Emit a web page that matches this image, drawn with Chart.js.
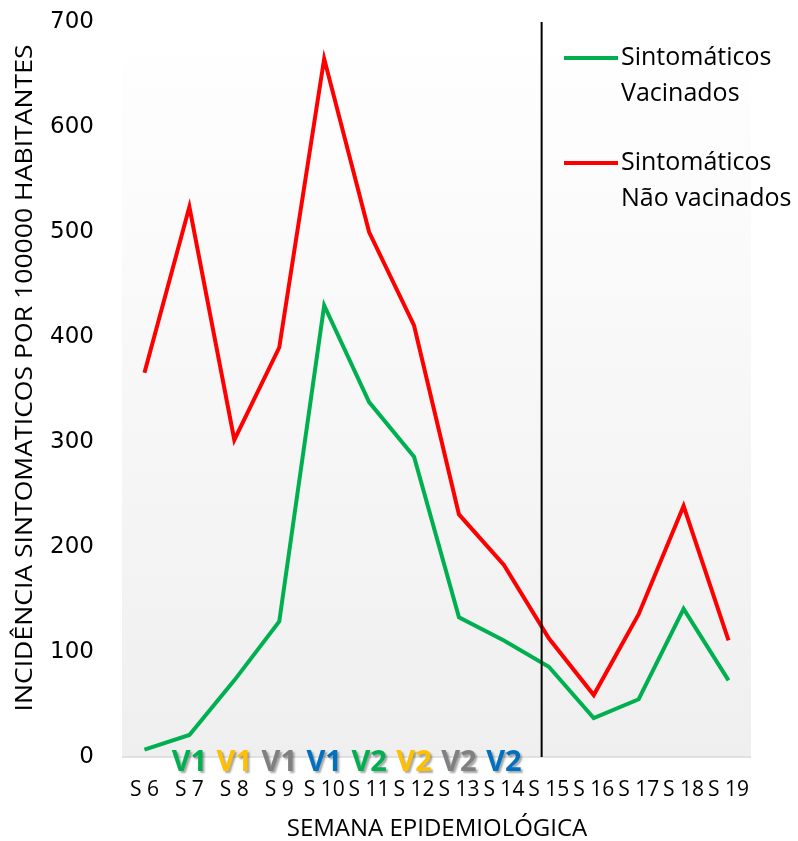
<!DOCTYPE html>
<html lang="pt">
<head>
<meta charset="UTF-8">
<title>Sintomáticos</title>
<style>
  html, body { margin: 0; padding: 0; background: #fff; }
  .box { width: 798px; height: 841px; }
</style>
</head>
<body>
<div class="box"><canvas id="grafico"></canvas></div>
<script src="https://cdn.jsdelivr.net/npm/chart.js"></script>
<script>
  // dados
  var semanas = ["S 6", "S 7", "S 8", "S 9", "S 10", "S 11", "S 12", "S 13", "S 14", "S 15", "S 16", "S 17", "S 18", "S 19"];
  var vacinados = [7, 21, 73, 129, 430, 338, 286, 133, 111, 86, 37, 55, 141, 73];
  var naoVacinados = [366, 524, 302, 390, 665, 500, 411, 231, 183, 113, 59, 136, 239, 111];
  var doses = ["V1", "V1", "V1", "V1", "V2", "V2", "V2", "V2"];
  var corDoses = ["#00b050", "#ffc000", "#808080", "#0070c0", "#00b050", "#ffc000", "#808080", "#0070c0"];
  var posicaoLinha = 8.84; // entre S 14 e S 15
  var tituloY = 'INCIDÊNCIA SINTOMATICOS POR 100000 HABITANTES';
  var tituloX = 'SEMANA EPIDEMIOLÓGICA';

  var fundo = {
    id: 'fundo',
    beforeDraw: function (chart) {
      var c = chart.ctx, a = chart.chartArea;
      var g = c.createLinearGradient(0, a.top, 0, a.bottom);
      g.addColorStop(0, '#ffffff');
      g.addColorStop(0.13, '#fdfdfd');
      g.addColorStop(1, '#efefef');
      c.save();
      c.fillStyle = g;
      c.fillRect(a.left, a.top, a.right - a.left, a.bottom - a.top);
      c.strokeStyle = '#d9d9d9';
      c.lineWidth = 1.5;
      c.beginPath();
      c.moveTo(a.left, a.bottom);
      c.lineTo(a.right, a.bottom);
      c.stroke();
      c.restore();
    },
    afterDraw: function (chart) {
      var c = chart.ctx, a = chart.chartArea, x = chart.scales.x;
      // linha vertical
      var x0 = x.getPixelForValue(8), x1 = x.getPixelForValue(9);
      var xl = x0 + (x1 - x0) * (posicaoLinha - 8);
      c.save();
      c.strokeStyle = '#000';
      c.lineWidth = 2;
      c.beginPath();
      c.moveTo(xl, a.top);
      c.lineTo(xl, a.bottom);
      c.stroke();

      // titulos dos eixos
      c.fillStyle = '#000';
      c.textAlign = 'center';
      c.textBaseline = 'middle';
      c.font = '24px "Open Sans", sans-serif';
      c.fillText(tituloX, 437, 829);

      c.save();
      c.translate(25, 378);
      c.rotate(-Math.PI / 2);
      c.font = '23px "Open Sans", sans-serif';
      var w = c.measureText(tituloY).width;
      c.scale(667 / w, 1);
      c.fillText(tituloY, 0, 0);
      c.restore();

      // V1 / V2
      c.font = 'bold 29px "Open Sans", sans-serif';
      for (var i = 0; i < doses.length; i++) {
        var px = x.getPixelForValue(i + 1);
        c.shadowColor = 'rgba(0,0,0,0.35)';
        c.shadowOffsetX = 2;
        c.shadowOffsetY = 2;
        c.shadowBlur = 2;
        c.fillStyle = corDoses[i];
        c.fillText(doses[i], px, a.bottom + 6);
      }
      c.shadowColor = 'transparent';

      // legenda
      var itens = [
        { cor: '#00b050', txt: ['Sintomáticos', 'Vacinados'], y: 58 },
        { cor: '#ff0000', txt: ['Sintomáticos', 'Não vacinados'], y: 163 }
      ];
      c.font = '25px "Open Sans", sans-serif';
      c.textAlign = 'left';
      itens.forEach(function (it) {
        c.strokeStyle = it.cor;
        c.lineWidth = 4;
        c.beginPath();
        c.moveTo(564, it.y);
        c.lineTo(618, it.y);
        c.stroke();
        c.fillStyle = '#000';
        c.fillText(it.txt[0], 621, it.y);
        c.fillText(it.txt[1], 621, it.y + 36);
      });
      c.restore();
    }
  };

  var grafico = new Chart(document.getElementById('grafico'), {
    type: 'line',
    data: {
      labels: semanas,
      datasets: [
        { label: 'Sintomáticos Vacinados', data: vacinados, borderColor: '#00b050', borderWidth: 4, pointRadius: 0, tension: 0 },
        { label: 'Sintomáticos Não vacinados', data: naoVacinados, borderColor: '#ff0000', borderWidth: 4, pointRadius: 0, tension: 0 }
      ]
    },
    options: {
      responsive: true,
      maintainAspectRatio: false,
      animation: false,
      layout: { padding: { top: 22, right: 47, left: 0, bottom: 0 } },
      plugins: { legend: { display: false }, tooltip: { enabled: false } },
      scales: {
        x: {
          offset: true,
          grid: { display: false, drawTicks: false },
          border: { display: false },
          ticks: { color: '#000', font: { family: 'Open Sans', size: 21 }, autoSkip: false, maxRotation: 0, padding: 20 },
          afterFit: function (s) { s.height = 84; s.paddingLeft = 0; s.paddingRight = 0; s.paddingTop = 0; s.paddingBottom = 0; }
        },
        y: {
          min: 0,
          max: 700,
          grid: { display: false, drawTicks: false },
          border: { display: false },
          ticks: { stepSize: 100, color: '#000', font: { family: 'DejaVu Sans', size: 23 }, padding: 28 },
          afterFit: function (s) { s.width = 122; s.paddingTop = 0; s.paddingBottom = 0; }
        }
      }
    },
    plugins: [fundo]
  });
</script>
</body>
</html>
